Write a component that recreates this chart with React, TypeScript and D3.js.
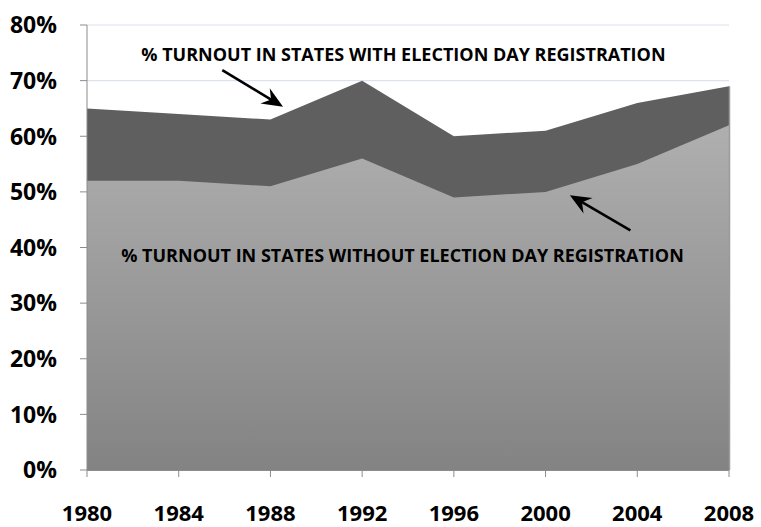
import * as d3 from "d3"

const years = [1980, 1984, 1988, 1992, 1996, 2000, 2004, 2008]
const withEdr = [65, 64, 63, 70, 60, 61, 66, 69]
const withoutEdr = [52, 52, 51, 56, 49, 50, 55, 62]
const yTicks = [0, 10, 20, 30, 40, 50, 60, 70, 80]

const labelWith = "% TURNOUT IN STATES WITH ELECTION DAY REGISTRATION"
const labelWithout = "% TURNOUT IN STATES WITHOUT ELECTION DAY REGISTRATION"

const W = 761
const H = 527
const FONT = "'Open Sans', 'DejaVu Sans', sans-serif"

export default function App() {
  const x = d3.scaleLinear().domain([1980, 2008]).range([87, 729])
  const y = d3.scaleLinear().domain([0, 80]).range([470, 25])

  const area = d3.area<number>()
    .x((_, i) => x(years[i]))
    .y0(y(0))
    .y1(d => y(d))

  // arrow: line plus a notched head pointing at (x2, y2)
  const arrow = (x1: number, y1: number, x2: number, y2: number) => {
    const a = Math.atan2(y2 - y1, x2 - x1)
    const len = 21, half = 9, notch = 14
    const bx = x2 - Math.cos(a) * notch, by = y2 - Math.sin(a) * notch
    const px = -Math.sin(a), py = Math.cos(a)
    const cx = x2 - Math.cos(a) * len, cy = y2 - Math.sin(a) * len
    const head = `M${x2},${y2} L${cx + px * half},${cy + py * half} L${bx},${by} L${cx - px * half},${cy - py * half} Z`
    return (
      <g>
        <line x1={x1} y1={y1} x2={bx} y2={by} stroke="#000" strokeWidth={2.6} />
        <path d={head} fill="#000" />
      </g>
    )
  }

  return (
    <div style={{ position: "absolute", left: 0, top: 0 }}>
      <svg width={W} height={H} style={{ display: "block", background: "#fff" }}>
        <defs>
          <linearGradient id="lightFill" x1="0" y1="0" x2="0" y2="1">
            <stop offset="0%" stopColor="#afafaf" />
            <stop offset="100%" stopColor="#838383" />
          </linearGradient>
        </defs>

        {yTicks.map(t => (
          <line key={t} x1={x(1980)} x2={x(2008)} y1={y(t)} y2={y(t)} stroke="#dbe2ee" strokeWidth={1.2} />
        ))}

        <path d={area(withEdr) ?? ""} fill="#5f5f5f" />
        <path d={area(withoutEdr) ?? ""} fill="url(#lightFill)" />
        <line x1={x(2008) + 0.5} x2={x(2008) + 0.5} y1={y(withEdr[7])} y2={y(0)} stroke="#9a9a9a" strokeWidth={1.5} />

        {/* axes */}
        <line x1={x(1980)} x2={x(1980)} y1={y(80)} y2={y(0)} stroke="#8c8c8c" strokeWidth={1} />
        <line x1={x(1980)} x2={x(2008)} y1={y(0) + 0.5} y2={y(0) + 0.5} stroke="#8c8c8c" strokeWidth={1} />
        {yTicks.map(t => (
          <line key={t} x1={x(1980) - 7} x2={x(1980)} y1={y(t)} y2={y(t)} stroke="#8c8c8c" />
        ))}
        {years.map(yr => (
          <line key={yr} x1={x(yr)} x2={x(yr)} y1={y(0)} y2={y(0) + 7} stroke="#8c8c8c" />
        ))}

        {yTicks.map(t => (
          <text key={t} x={57} y={y(t)} dy="0.36em" textAnchor="end" fontFamily={FONT}
            fontWeight={700} fontSize={23} fill="#000">{t}%</text>
        ))}
        {years.map(yr => (
          <text key={yr} x={x(yr)} y={521} textAnchor="middle" fontFamily={FONT}
            fontWeight={700} fontSize={22} fill="#000">{yr}</text>
        ))}

        <text x={x(1993.8)} y={y(73.6)} textAnchor="middle" fontFamily={FONT}
          fontWeight={700} fontSize={18} fill="#000">{labelWith}</text>
        <text x={x(1993.76)} y={y(37.4)} textAnchor="middle" fontFamily={FONT}
          fontWeight={700} fontSize={18} fill="#000">{labelWithout}</text>

        {arrow(x(1985.9), y(71.9), x(1988.55), y(65.3))}
        {arrow(x(2003.7), y(43.1), x(2001.06), y(49.4))}
      </svg>
    </div>
  )
}
